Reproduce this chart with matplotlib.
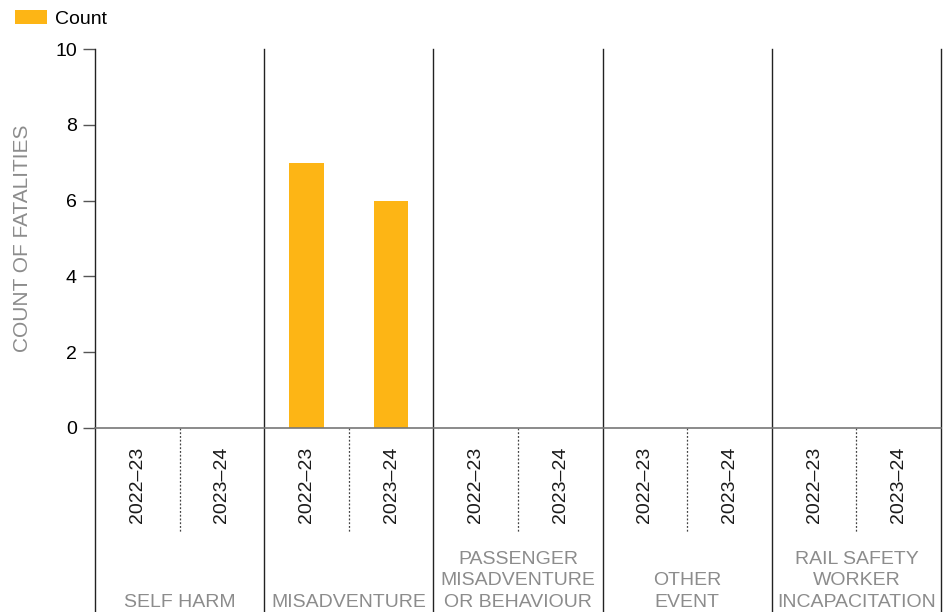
import matplotlib.pyplot as plt
import matplotlib.transforms as mtransforms
from matplotlib.patches import Patch

plt.rcParams['font.family'] = ['Liberation Sans', 'DejaVu Sans']

groups = ['SELF HARM', 'MISADVENTURE', 'PASSENGER\nMISADVENTURE\nOR BEHAVIOUR',
          'OTHER\nEVENT', 'RAIL SAFETY\nWORKER\nINCAPACITATION']
years = ['2022–23', '2023–24']
counts = [0, 0, 7, 6, 0, 0, 0, 0, 0, 0]

bar_color = '#FDB515'
grey_text = '#8C8C8C'

fig = plt.figure(figsize=(9.47, 6.12), dpi=100)
ax = fig.add_axes([95 / 947, 1 - 428 / 612, (941 - 95) / 947, (428 - 49) / 612])

xs = list(range(len(counts)))
ax.bar(xs, counts, width=0.41, color=bar_color, label='Count', zorder=2)

ax.set_xlim(-0.5, len(counts) - 0.5)
ax.set_ylim(0, 10)
ax.set_yticks([0, 2, 4, 6, 8, 10])
ax.tick_params(axis='y', length=9, width=1, color='#555555', labelsize=14, pad=4)
ax.set_xticks([])
for s in ['top', 'right', 'left']:
    ax.spines[s].set_visible(False)
ax.spines['bottom'].set_color('#777777')
ax.spines['bottom'].set_linewidth(1.2)

ax.set_ylabel('COUNT OF FATALITIES', fontsize=15, color=grey_text)
ax.yaxis.set_label_coords(-0.075, 0.5)

trans = mtransforms.blended_transform_factory(ax.transData, ax.transAxes)
bottom = -(612 - 428) / (428 - 49)
dot_bottom = -(532 - 428) / (428 - 49)

# group separators running into the label area
for g in range(len(groups) + 1):
    x = g * 2 - 0.5
    ax.plot([x, x], [1, bottom], transform=trans, color='#222222', lw=1.0, clip_on=False)

for g, name in enumerate(groups):
    mid = g * 2 + 0.5
    ax.plot([mid, mid], [0, dot_bottom], transform=trans, color='#444444', lw=0.9,
            ls=(0, (1.5, 1.5)), clip_on=False)
    for k, yr in enumerate(years):
        ax.text(g * 2 + k, -0.05, yr, transform=trans, rotation=90, ha='center', va='top',
                fontsize=14, color='#1a1a1a')
    ax.text(mid, -(607 - 428) / (428 - 49), name, transform=trans, ha='center', va='baseline',
            multialignment='center', fontsize=14, color=grey_text, linespacing=1.35)

handles = [Patch(facecolor=bar_color, label='Count')]
fig.legend(handles=handles, loc='upper left', bbox_to_anchor=(-0.003, 1.013), frameon=False,
           fontsize=14, handlelength=1.65, handleheight=0.8, handletextpad=0.45)

fig.savefig('out.png', dpi=100)
